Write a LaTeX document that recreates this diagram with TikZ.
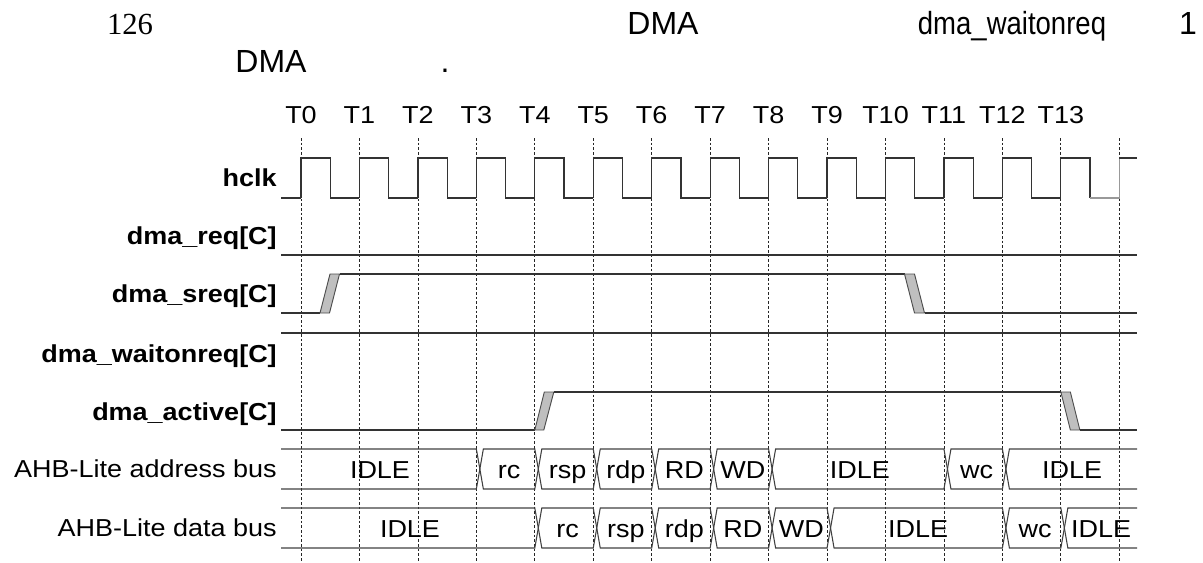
\documentclass[tikz,border=0pt]{standalone}
\usepackage{fontspec}
\setmainfont[FakeStretch=1.1]{Liberation Sans}
\newfontfamily\headfont{Liberation Sans}
\newfontfamily\headnarrow[FakeStretch=0.86]{Liberation Sans}
\newfontfamily\numfont{Liberation Serif}

% x position of clock edge Tn (pixels)
\newcommand{\Tx}[1]{(301+58.45*(#1))}

% one bus value between two edges: name, top y, from, to, text
\newcommand{\busval}[5]{%
  \draw[bus] ({\Tx{#3}+3.5},#2+20) -- ({\Tx{#3}+7},#2) -- ({\Tx{#4}},#2)
    -- ({\Tx{#4}+3.5},#2+20) -- ({\Tx{#4}},#2+40) -- ({\Tx{#3}+7},#2+40) -- cycle;
  \node[bustxt] (#1) at ({(\Tx{#3}+7+\Tx{#4})/2},#2+29.5) {#5};}

\begin{document}
\begin{tikzpicture}[
        x=0.75pt, y=-0.75pt,
        sig/.style={draw=black!80, line width=0.9pt},
        bus/.style={draw=black!75, line width=0.8pt},
        ramp/.style={draw=black!70, fill=black!25, line width=0.7pt},
        grid/.style={draw=black!85, line width=0.6pt, dash pattern=on 2pt off 1.5pt},
        lbl/.style={anchor=base east, inner sep=0pt, font=\fontsize{18.4}{20}\selectfont\bfseries},
        buslbl/.style={anchor=base east, inner sep=0pt, font=\fontsize{18.4}{20}\selectfont},
        bustxt/.style={anchor=base, inner sep=0pt, font=\fontsize{18.4}{20}\selectfont},
        tick/.style={anchor=base, inner sep=0pt, font=\fontsize{18.4}{20}\selectfont},
        head/.style={anchor=base, inner sep=0pt, font=\fontsize{24}{26}\headfont}
    ]
    \useasboundingbox (0,0) rectangle (1203,562);

    % heading fragments
    \node[head, font=\fontsize{23}{26}\numfont] (pg) at (130,34) {126};
    \node[head] (h1) at (663,34) {DMA};
    \node[head, font=\fontsize{24}{26}\headnarrow] (h2) at (1012,34) {dma\_waitonreq};
    \node[head] (h3) at (1188,34) {1};
    \node[head] (h4) at (271,72) {DMA};
    \node[head] (h5) at (445,72) {.};

    % clock edges
    \foreach \k in {0,...,14}
        \draw[grid] ({\Tx{\k}},138) -- ({\Tx{\k}},562);
    \foreach \k in {0,...,13}
        \node[tick] (t\k) at ({\Tx{\k}},123) {T\k};

    % signal names
    \node[lbl] (clk)    at (277,186) {hclk};
    \node[lbl] (req)    at (277,244) {dma\_req[C]};
    \node[lbl] (sreq)   at (277,302) {dma\_sreq[C]};
    \node[lbl] (wait)   at (277,362) {dma\_waitonreq[C]};
    \node[lbl] (active) at (277,420) {dma\_active[C]};
    \node[buslbl] (abus) at (277,477) {AHB-Lite address bus};
    \node[buslbl] (dbus) at (277,536) {AHB-Lite data bus};

    % hclk
    \draw[sig] (281,198) -- ({\Tx{0}},198);
    \foreach \k in {0,...,12}
        \draw[sig] ({\Tx{\k}},198) -- ({\Tx{\k}},158) -- ({\Tx{\k}+29.2},158)
            -- ({\Tx{\k}+29.2},198) -- ({\Tx{\k+1}},198);
    \draw[sig] ({\Tx{13}},198) -- ({\Tx{13}},158) -- ({\Tx{13}+29.2},158) -- ({\Tx{13}+29.2},198);
    \draw[sig, draw=black!40] ({\Tx{13}+29.2},198) -- ({\Tx{14}},198) -- ({\Tx{14}},158);
    \draw[sig] ({\Tx{14}},158) -- (1137,158);

    % dma_req
    \draw[sig] (281,255) -- (1137,255);

    % dma_sreq
    \draw[sig] (281,313) -- ({\Tx{0}+19},313);
    \draw[ramp] ({\Tx{0}+19},313) -- ({\Tx{0}+28.5},313) -- ({\Tx{0}+38.5},274) -- ({\Tx{0}+29},274) -- cycle;
    \draw[sig] ({\Tx{0}+38.5},274) -- ({\Tx{10}+19},274);
    \draw[ramp] ({\Tx{10}+19},274) -- ({\Tx{10}+29},274) -- ({\Tx{10}+39},313) -- ({\Tx{10}+29},313) -- cycle;
    \draw[sig] ({\Tx{10}+39},313) -- (1137,313);

    % dma_waitonreq
    \draw[sig] (281,333) -- (1137,333);

    % dma_active
    \draw[sig] (281,430) -- ({\Tx{4}},430);
    \draw[ramp] ({\Tx{4}},430) -- ({\Tx{4}+9},430) -- ({\Tx{4}+19},392) -- ({\Tx{4}+9.5},392) -- cycle;
    \draw[sig] ({\Tx{4}+19},392) -- ({\Tx{13}},392);
    \draw[ramp] ({\Tx{13}},392) -- ({\Tx{13}+9.5},392) -- ({\Tx{13}+19},430) -- ({\Tx{13}+9.5},430) -- cycle;
    \draw[sig] ({\Tx{13}+19},430) -- (1137,430);

    % address bus
    \draw[bus] (281,449) -- ({\Tx{3}},449) -- ({\Tx{3}+3.5},469) -- ({\Tx{3}},489) -- (281,489);
    \node[bustxt] (a0) at (380,478.5) {IDLE};
    \busval{a1}{449}{3}{4}{rc}
    \busval{a2}{449}{4}{5}{rsp}
    \busval{a3}{449}{5}{6}{rdp}
    \busval{a4}{449}{6}{7}{RD}
    \busval{a5}{449}{7}{8}{WD}
    \busval{a6}{449}{8}{11}{IDLE}
    \busval{a7}{449}{11}{12}{wc}
    \draw[bus] (1137,449) -- ({\Tx{12}+7},449) -- ({\Tx{12}+3.5},469) -- ({\Tx{12}+7},489) -- (1137,489);
    \node[bustxt] (a8) at (1072,478.5) {IDLE};

    % data bus
    \draw[bus] (281,508) -- ({\Tx{4}},508) -- ({\Tx{4}+3.5},528) -- ({\Tx{4}},548) -- (281,548);
    \node[bustxt] (d0) at (410,537.5) {IDLE};
    \busval{d1}{508}{4}{5}{rc}
    \busval{d2}{508}{5}{6}{rsp}
    \busval{d3}{508}{6}{7}{rdp}
    \busval{d4}{508}{7}{8}{RD}
    \busval{d5}{508}{8}{9}{WD}
    \busval{d6}{508}{9}{12}{IDLE}
    \busval{d7}{508}{12}{13}{wc}
    \draw[bus] (1137,508) -- ({\Tx{13}+7},508) -- ({\Tx{13}+3.5},528) -- ({\Tx{13}+7},548) -- (1137,548);
    \node[bustxt] (d8) at (1101,537.5) {IDLE};

\end{tikzpicture}
\end{document}
